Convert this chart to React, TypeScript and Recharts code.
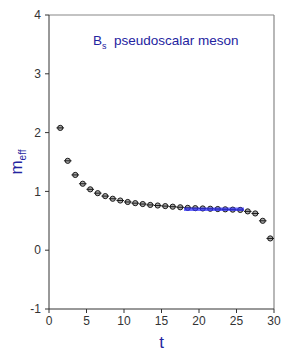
import React from "react";
import { ComposedChart, Scatter, XAxis, YAxis, ReferenceLine, Label } from "recharts";

const tValues = [1.5, 2.5, 3.5, 4.5, 5.5, 6.5, 7.5, 8.5, 9.5, 10.5, 11.5, 12.5, 13.5, 14.5, 15.5, 16.5, 17.5, 18.5, 19.5, 20.5, 21.5, 22.5, 23.5, 24.5, 25.5, 26.5, 27.5, 28.5, 29.5];
const meffValues = [2.08, 1.52, 1.28, 1.13, 1.035, 0.97, 0.92, 0.875, 0.845, 0.82, 0.8, 0.785, 0.77, 0.76, 0.75, 0.74, 0.73, 0.72, 0.715, 0.71, 0.705, 0.7, 0.695, 0.69, 0.685, 0.66, 0.625, 0.5, 0.2];
const xTicks = [0, 5, 10, 15, 20, 25, 30];
const yTicks = [-1, 0, 1, 2, 3, 4];
const fitT = [18, 26];
const fitValue = [0.697, 0.697];

const data = tValues.map((t, i) => ({ t, m: meffValues[i] }));
const fitData = fitT.map((t, i) => ({ t, m: fitValue[i] }));

const BLUE = "#2424a0";

const Marker = (props: any) => {
  const { cx, cy } = props;
  if (cx == null || cy == null) return null;
  return (
    <g>
      <circle cx={cx} cy={cy} r={2.6} fill="#a8a8a8" stroke="#1a1a1a" strokeWidth={1} />
      <line x1={cx - 3.8} x2={cx + 3.8} y1={cy} y2={cy} stroke="#1a1a1a" strokeWidth={1} />
    </g>
  );
};

const NoMarker = () => <g />;

const YLabel = (props: any) => {
  const vb = props.viewBox || {};
  const cy = vb.y + vb.height / 2;
  const x = 22;
  return (
    <text transform={`rotate(-90, ${x}, ${cy})`} x={x} y={cy} textAnchor="middle" fill={BLUE} fontFamily="Liberation Sans, Arial, sans-serif">
      <tspan fontSize={17}>m</tspan>
      <tspan fontSize={10} dy={4}>eff</tspan>
    </text>
  );
};

export default function App() {
  return (
    <div style={{ position: "absolute", left: 0, top: 0, width: 300, height: 354, background: "#fff" }}>
      <ComposedChart width={300} height={354} margin={{ top: 15, right: 26, bottom: 15, left: 0 }}>
        <XAxis
          type="number"
          dataKey="t"
          domain={[0, 30]}
          ticks={xTicks}
          allowDataOverflow
          height={30}
          tickSize={4}
          tickMargin={3}
          stroke="#333"
          tick={{ fill: "#333", fontSize: 12, fontFamily: "Liberation Sans, Arial, sans-serif" }}
        >
          <Label value="t" position="bottom" offset={-3} fill={BLUE} fontSize={17} fontFamily="Liberation Sans, Arial, sans-serif" />
        </XAxis>
        <YAxis
          type="number"
          domain={[-1, 4]}
          ticks={yTicks}
          allowDataOverflow
          width={49}
          tickSize={4}
          tickMargin={4}
          stroke="#333"
          tick={{ fill: "#333", fontSize: 12, fontFamily: "Liberation Sans, Arial, sans-serif" }}
        >
          <Label content={YLabel} />
        </YAxis>
        <ReferenceLine y={4} stroke="#888" strokeWidth={1.2} />
        <ReferenceLine x={30} stroke="#888" strokeWidth={1.2} />
        <Scatter data={data} dataKey="m" shape={Marker} isAnimationActive={false} />
        <Scatter
          data={fitData}
          dataKey="m"
          shape={NoMarker}
          line={{ stroke: "#2f2fff", strokeOpacity: 0.7, strokeWidth: 3.5 }}
          isAnimationActive={false}
        />
      </ComposedChart>
      <div
        style={{
          position: "absolute",
          left: 93,
          top: 33,
          color: BLUE,
          fontFamily: "Liberation Sans, Arial, sans-serif",
          fontSize: 13.5,
          whiteSpace: "pre",
          lineHeight: "16px",
        }}
      >
        B<sub style={{ fontSize: 9, verticalAlign: "-4px", lineHeight: 0 }}>s</sub>{"  "}pseudoscalar meson
      </div>
    </div>
  );
}
